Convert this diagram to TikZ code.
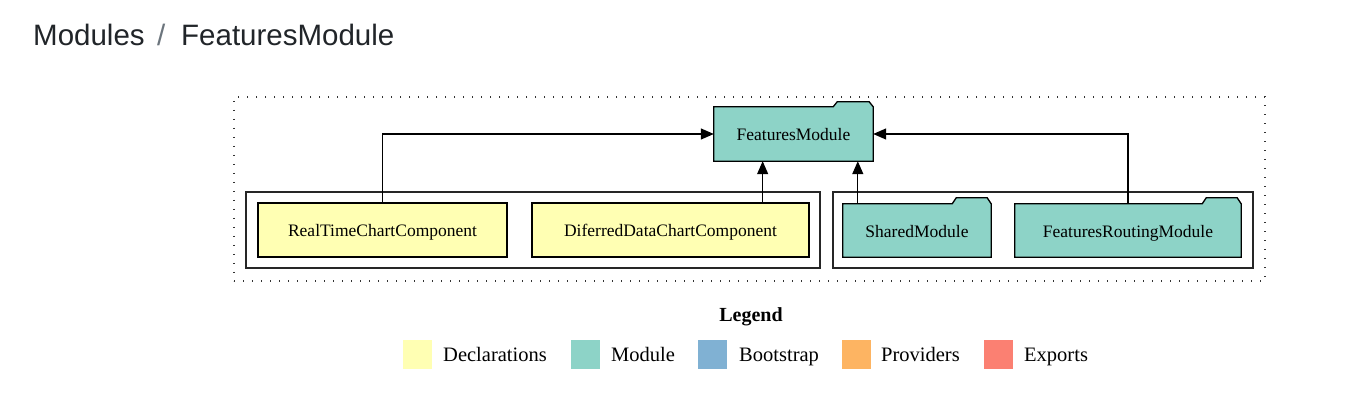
\documentclass[tikz,border=0pt]{standalone}
\usepackage{fontspec}
\setmainfont{Liberation Serif}
\newfontfamily\titlefont{Liberation Sans}
\usetikzlibrary{arrows.meta,calc,backgrounds}
\definecolor{declc}{HTML}{FFFFB3}
\definecolor{modc}{HTML}{8DD3C7}
\definecolor{bootc}{HTML}{80B1D3}
\definecolor{provc}{HTML}{FDB462}
\definecolor{expoc}{HTML}{FB8072}
\definecolor{titlec}{HTML}{212529}
\definecolor{slashc}{HTML}{6C757D}
\begin{document}
\begin{tikzpicture}[x=1pt,y=-1pt,
  nodetext/.style={font=\fontsize{17.5}{21}\selectfont, inner sep=0pt, text height=14pt, text depth=0pt},
  declbox/.style={nodetext, draw=black, line width=1.3pt, fill=declc, minimum height=54pt},
  modbox/.style={nodetext, minimum height=54pt},
  folder/.style={draw=black, line width=1.3pt, fill=modc, line join=miter},
  cluster/.style={draw=black!85, line width=1.5pt, inner sep=0pt},
  outer/.style={draw=black!80, line width=1.4pt, dash pattern=on 1.4pt off 7.6pt, inner sep=0pt},
  edge/.style={draw=black, line width=1.3pt, -{Triangle[length=13pt,width=11pt]}},
  swatch/.style={minimum width=29pt, minimum height=29pt, inner sep=0pt},
  legtext/.style={font=\fontsize{20.5}{24}\selectfont, anchor=base west, inner sep=0pt},
  titletext/.style={font=\titlefont\fontsize{29.5}{35}\selectfont, text=titlec, anchor=base west, inner sep=0pt}
]
\useasboundingbox (0,0) rectangle (1358,403);

% title
\node[titletext] (t1) at (33,46) {Modules};
\node[titletext, text=slashc] (t2) at (157,46) {/};
\node[titletext] (t3) at (181,46) {FeaturesModule};

% frames
\node[outer, minimum width=1031pt, minimum height=184pt] (frame) at (749.5,189) {};
\node[cluster, minimum width=574pt, minimum height=76pt] (cl) at (533,230) {};
\node[cluster, minimum width=420pt, minimum height=76pt] (cr) at (1043,230) {};

% nodes
\node[modbox, minimum width=159pt] (fm) at (793.5,134) {FeaturesModule};
\node[declbox, minimum width=249pt] (rt) at (382.5,230) {RealTimeChartComponent};
\node[declbox, minimum width=277pt] (df) at (670.5,230) {DiferredDataChartComponent};
\node[modbox, minimum width=148pt, minimum height=53pt] (sm) at (917,230.5) {SharedModule};
\node[modbox, minimum width=226pt, minimum height=53pt] (rm) at (1128,230.5) {FeaturesRoutingModule};

\begin{scope}[on background layer]
\fill[white] (0,0) rectangle (1358,403);
\draw[folder] (fm.south west) -- (fm.north west) -- ($(fm.north east)+(-40,0)$) -- ($(fm.north east)+(-36,-5)$) -- ($(fm.north east)+(-4,-5)$) -- (fm.north east) -- (fm.south east) -- cycle;
\draw[folder] (sm.south west) -- (sm.north west) -- ($(sm.north east)+(-39,0)$) -- ($(sm.north east)+(-35,-6)$) -- ($(sm.north east)+(-4,-6)$) -- (sm.north east) -- (sm.south east) -- cycle;
\draw[folder] (rm.south west) -- (rm.north west) -- ($(rm.north east)+(-39,0)$) -- ($(rm.north east)+(-35,-6)$) -- ($(rm.north east)+(-4,-6)$) -- (rm.north east) -- (rm.south east) -- cycle;
\end{scope}

% edges
\coordinate (dfa) at ($(df.north east)+(-47,0)$);
\coordinate (sma) at ($(sm.north west)+(15,0)$);
\draw[edge] (rt.north) |- (fm.west);
\draw[edge] (dfa) -- (dfa |- fm.south);
\draw[edge] (sma) -- (sma |- fm.south);
\draw[edge] (rm.north) |- (fm.east);

% legend
\node[font=\bfseries\fontsize{20}{24}\selectfont, anchor=base, inner sep=0pt] (lg) at (751,322) {Legend};
\node[swatch, fill=declc] (s1) at (417.5,354.5) {};
\node[legtext] (l1) at (443,362) {Declarations};
\node[swatch, fill=modc] (s2) at (585,354.5) {};
\node[legtext] (l2) at (611,362) {Module};
\node[swatch, fill=bootc] (s3) at (712,354.5) {};
\node[legtext] (l3) at (739,362) {Bootstrap};
\node[swatch, fill=provc] (s4) at (856,354.5) {};
\node[legtext] (l4) at (881,362) {Providers};
\node[swatch, fill=expoc] (s5) at (998,354.5) {};
\node[legtext] (l5) at (1024,362) {Exports};
\end{tikzpicture}
\end{document}
